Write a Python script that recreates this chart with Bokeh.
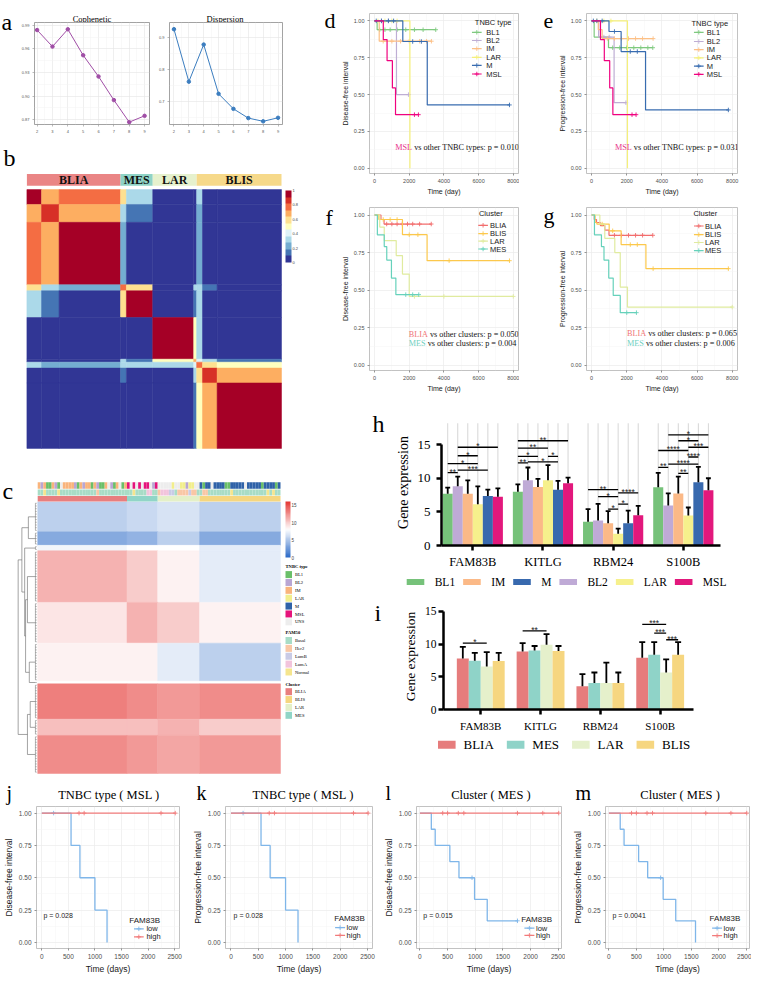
import numpy as np
from bokeh.plotting import figure
from bokeh.models import (Range1d, FixedTicker, ColorBar, LinearColorMapper, NumeralTickFormatter,
                          ColumnDataSource)
from bokeh.layouts import row, column
from bokeh.embed import file_html
from bokeh.resources import INLINE
from bokeh.core.properties import value

SERIF = "Liberation Serif"
SANS = "Liberation Sans"

# ================= DATA =================
# a: NMF rank survey
rank_k = [2, 3, 4, 5, 6, 7, 8, 9]
cophenetic = [0.984, 0.963, 0.985, 0.952, 0.925, 0.895, 0.867, 0.875]
dispersion = [0.925, 0.761, 0.877, 0.723, 0.676, 0.647, 0.637, 0.648]

# b: consensus matrix (segment level)
clusters = ["BLIA", "MES", "LAR", "BLIS"]
cluster_sizes = [32, 11, 15, 29]
cluster_colors = ["#ea8585", "#8fd3c6", "#e6f1cd", "#f6d98a"]
cons_seg_sizes = [5, 6, 21, 2, 9, 14, 1, 2, 5, 22]
consensus = [
    [0.97, 0.70, 0.74, 0.55, 0.30, 0.02, 0.05, 0.30, 0.05, 0.02],
    [0.70, 0.85, 0.68, 0.35, 0.15, 0.02, 0.05, 0.25, 0.05, 0.02],
    [0.74, 0.68, 0.95, 0.25, 0.02, 0.02, 0.05, 0.25, 0.03, 0.02],
    [0.55, 0.35, 0.25, 0.80, 0.60, 0.05, 0.30, 0.30, 0.15, 0.05],
    [0.30, 0.15, 0.02, 0.60, 0.92, 0.02, 0.10, 0.30, 0.05, 0.02],
    [0.02, 0.02, 0.02, 0.05, 0.02, 0.95, 0.50, 0.30, 0.05, 0.02],
    [0.05, 0.05, 0.05, 0.30, 0.10, 0.50, 0.70, 0.40, 0.30, 0.15],
    [0.30, 0.25, 0.25, 0.30, 0.30, 0.30, 0.40, 0.75, 0.55, 0.50],
    [0.05, 0.05, 0.03, 0.15, 0.05, 0.05, 0.30, 0.55, 0.85, 0.70],
    [0.02, 0.02, 0.02, 0.05, 0.02, 0.02, 0.15, 0.50, 0.70, 0.95],
]

# c: expression heatmap (row blocks x clusters)
row_block_sizes = [11, 5, 2, 19, 15, 14, 1, 13, 6, 14]
expr_blocks = [
    [5.5, 6.0, 6.5, 5.5],
    [3.5, 4.0, 5.5, 3.5],
    [7.5, 8.0, 8.0, 7.0],
    [11.0, 10.0, 8.5, 7.0],
    [9.0, 11.0, 10.0, 8.5],
    [8.5, 8.5, 7.0, 5.5],
    [8.0, 8.0, 8.0, 8.0],
    [13.0, 12.5, 12.0, 12.5],
    [10.5, 10.5, 11.0, 10.0],
    [12.5, 12.0, 11.5, 12.0],
]
dendro_merges = [(0, 1, 0.45), (3, 4, 0.5), (5, 6, 0.4), (11, 12, 0.6), (2, 13, 0.65),
                 (10, 14, 0.8), (7, 8, 0.35), (16, 9, 0.5), (15, 17, 1.0)]
tnbc_blia = ["IM", "BL2", "IM", "BL1", "BL1", "IM", "BL2", "BL1", "UNS", "IM", "IM", "IM", "IM", "BL2", "BL1", "IM",
             "BL2", "IM", "IM", "BL1", "IM", "BL2", "BL1", "BL1", "IM", "UNS", "BL2", "BL1", "IM", "UNS", "BL1", "IM"]
tnbc_mes = ["MSL", "UNS", "MSL", "UNS", "MSL", "UNS", "MSL", "MSL", "UNS", "BL2", "MSL"]
tnbc_lar = ["UNS", "UNS", "UNS", "UNS", "UNS", "LAR", "UNS", "UNS", "LAR", "LAR", "BL2", "LAR", "LAR", "UNS", "UNS"]
tnbc_blis = ["M", "BL1", "M", "M", "UNS", "M", "M", "M", "M", "BL1", "BL1", "M", "M", "M", "M", "M", "UNS", "M", "M",
             "M", "M", "M", "BL1", "M", "M", "M", "M", "BL1", "M"]
pam_blia = ["Basal", "Basal", "Normal", "Basal", "Basal", "Basal", "Basal", "Normal", "Basal", "Basal",
            "Basal", "Basal", "Basal", "Basal", "Basal", "Basal", "Basal", "Basal", "Basal", "Basal",
            "Basal", "Her2", "Basal", "Basal", "Basal", "Basal", "Basal", "Basal", "Basal", "Basal",
            "Basal", "Basal"]
pam_mes = ["Basal", "Basal", "Normal", "Basal", "Basal", "Basal", "Basal", "LumA", "LumA", "Basal", "Basal"]
pam_lar = ["Her2", "LumA", "LumA", "LumA", "LumB", "LumB", "Basal", "Her2", "Her2", "Her2", "Her2", "LumB", "Her2",
           "Her2", "Basal"]
pam_blis = ["Basal", "Her2", "Her2", "Basal", "Basal", "Basal", "Basal", "Basal", "Basal", "Basal",
            "Basal", "Normal", "Basal", "Basal", "Basal", "Basal", "Basal", "Basal", "Basal", "Basal",
            "Basal", "Basal", "Basal", "Basal", "Normal", "Basal", "Normal", "Basal", "Basal"]
tnbc_types = ["BL1", "BL2", "IM", "LAR", "M", "MSL", "UNS"]
tnbc_ann_colors = ["#6abf69", "#b9a6d3", "#f9b47c", "#f2ee8c", "#2f62a8", "#e5137b", "#ededed"]
pam50_types = ["Basal", "Her2", "LumB", "LumA", "Normal"]
pam50_colors = ["#a8dcc6", "#f9c7a5", "#c9cbe6", "#f2c4dc", "#f5e58e"]
cluster_legend = ["BLIA", "BLIS", "LAR", "MES"]
cluster_legend_colors = ["#e87e7e", "#f5d67f", "#e4f0c8", "#90d5c7"]

# d-g: Kaplan-Meier curves
type_groups = ["BL1", "BL2", "IM", "LAR", "M", "MSL"]
type_colors = ["#7fc97f", "#beaed4", "#fdc086", "#f5f07a", "#386cb0", "#f0027f"]
dfi_type_t = [[0, 150, 3530], [0, 1265, 1955], [0, 270, 3280], [0, 2040, 2040], [0, 1630, 3040, 7780],
              [0, 505, 723, 1030, 1210, 2530]]
dfi_type_s = [[1, 0.94, 0.94], [1, 0.5, 0.5], [1, 0.862, 0.862], [1, 0, 0], [1, 0.86, 0.43, 0.43],
              [1, 0.873, 0.73, 0.545, 0.364, 0.364]]
dfi_type_cens = [[300, 600, 900, 1300, 1800, 2300, 2800, 3530], [400, 800, 1955], [500, 1000, 1500, 2000, 2600, 3000, 3280],
                 [200, 600, 1000, 1300], [100, 400, 800, 1100, 2200, 2700, 7780], [2300, 2530]]
pfi_type_t = [[0, 146, 960, 3480], [0, 400, 1280, 1950], [0, 380, 600, 3500], [0, 2040, 2040],
              [0, 990, 1680, 3070, 7780], [0, 505, 723, 1030, 1210, 2530]]
pfi_type_s = [[1, 0.89, 0.818, 0.818], [1, 0.89, 0.445, 0.445], [1, 0.94, 0.88, 0.88], [1, 0, 0],
              [1, 0.928, 0.792, 0.396, 0.396], [1, 0.873, 0.73, 0.545, 0.364, 0.364]]
pfi_type_cens = [[1200, 1600, 2000, 2400, 2800, 3200, 3480], [700, 1000, 1950], [900, 1300, 1700, 2100, 2500, 2900, 3500],
                 [300, 700, 1100], [100, 300, 600, 1300, 2200, 2600, 7780], [2300, 2530]]
cl_groups = ["BLIA", "BLIS", "LAR", "MES"]
cl_colors = ["#f26d6d", "#fcc84c", "#e0eb9f", "#66d1bb"]
dfi_cl_t = [[0, 370, 550, 3270], [0, 250, 1610, 3030, 7780], [0, 300, 560, 1250, 1610, 2000, 8000],
            [0, 163, 560, 705, 975, 1230, 2550]]
dfi_cl_s = [[1, 0.97, 0.94, 0.94], [1, 0.97, 0.869, 0.696, 0.696], [1, 0.92, 0.83, 0.73, 0.607, 0.458, 0.458],
            [1, 0.868, 0.79, 0.70, 0.58, 0.47, 0.47]]
dfi_cl_cens = [[700, 1000, 1300, 1600, 1900, 2200, 2600, 3270], [500, 900, 1300, 2000, 2500, 4300, 7780],
               [2300, 4000, 8000], [1800, 2200, 2550]]
pfi_cl_t = [[0, 150, 280, 500, 750, 990, 3480], [0, 200, 300, 1000, 1680, 3090, 7780],
            [0, 470, 750, 1320, 1630, 2040, 8000], [0, 163, 560, 705, 975, 1230, 1630, 2550]]
pfi_cl_s = [[1, 0.97, 0.95, 0.93, 0.90, 0.865, 0.865], [1, 0.95, 0.94, 0.895, 0.803, 0.643, 0.643],
            [1, 0.94, 0.845, 0.75, 0.52, 0.387, 0.387], [1, 0.868, 0.79, 0.70, 0.58, 0.465, 0.35, 0.35]]
pfi_cl_cens = [[1300, 1700, 2100, 2500, 2900, 3480], [600, 1200, 2200, 2600, 3500, 7780], [8000], [2000, 2550]]

# h: gene expression by TNBC type
genes = ["FAM83B", "KITLG", "RBM24", "S100B"]
h_types = ["BL1", "BL2", "IM", "LAR", "M", "MSL"]
h_colors = ["#76c27a", "#bfaad6", "#fbb987", "#f6f08c", "#3869ae", "#e2187c"]
h_mean = [[7.7, 8.0, 3.55, 8.65], [8.8, 9.7, 3.7, 5.95], [7.7, 8.7, 3.3, 7.75],
          [6.15, 9.7, 1.75, 4.45], [7.35, 8.3, 3.3, 9.4], [7.25, 9.25, 4.5, 8.2]]
h_sd = [[0.9, 1.1, 1.85, 2.15], [1.45, 1.9, 2.5, 1.8], [2.0, 1.2, 1.8, 2.5],
        [2.65, 2.25, 0.75, 1.2], [0.95, 1.3, 1.9, 2.3], [1.25, 0.85, 1.4, 1.8]]
h_legend_order = ["BL1", "IM", "M", "BL2", "LAR", "MSL"]
h_brackets = [(0, 0, 1, 10.84, "**"), (0, 0, 3, 12.19, "*"), (0, 1, 4, 11.22, "***"), (0, 1, 3, 13.35, "*"),
              (0, 1, 5, 14.61, "*"),
              (1, 0, 1, 12.29, "**"), (1, 0, 2, 13.26, "*"), (1, 0, 3, 14.47, "**"), (1, 0, 5, 15.58, "**"),
              (1, 1, 4, 12.43, "*"), (1, 3, 4, 13.26, "*"),
              (2, 0, 3, 8.32, "**"), (2, 1, 3, 7.26, "*"), (2, 2, 3, 5.42, "*"), (2, 3, 4, 6.14, "*"),
              (2, 3, 5, 7.84, "****"),
              (3, 0, 1, 11.61, "**"), (3, 0, 3, 14.13, "****"), (3, 1, 4, 12.1, "****"), (3, 2, 3, 10.74, "**"),
              (3, 3, 4, 13.16, "****"), (3, 3, 5, 14.61, "***"), (3, 2, 4, 15.58, "*"), (3, 1, 5, 16.45, "*")]

# i: gene expression by cluster
i_groups = ["BLIA", "MES", "LAR", "BLIS"]
i_colors = ["#e67c7c", "#8fd3c8", "#e5f0cb", "#f6d680"]
i_mean = [[7.8, 8.85, 3.55, 7.9], [7.45, 9.0, 4.05, 8.35], [6.55, 9.9, 4.05, 5.65], [7.4, 8.95, 4.05, 8.35]]
i_sd = [[1.75, 1.3, 1.85, 2.4], [1.2, 0.7, 1.6, 1.95], [2.2, 1.6, 3.1, 2.0], [1.25, 0.75, 1.6, 1.95]]
i_brackets = [(0, 0, 2, 10.15, "*"), (1, 0, 2, 12.0, "**"), (3, 0, 2, 13.0, "***"), (3, 1, 2, 11.65, "***"),
              (3, 2, 3, 10.65, "***")]

# j-m: FAM83B low/high
fam_colors = ["#7fb6e9", "#f27b7b"]
msl_low_t = [0, 550, 717, 999, 1227]
msl_low_s = [1, 0.75, 0.5, 0.25, 0]
msl_low_cens = [222]
msl_high_t = [0, 2510]
msl_high_s = [1, 1]
msl_high_cens = [700, 796, 2242, 2510]
mes_dfi_low_t = [0, 206, 276, 541, 706, 988, 1217, 1764]
mes_dfi_low_s = [1, 0.875, 0.75, 0.625, 0.5, 0.333, 0.167, 0.167]
mes_dfi_low_cens = [942, 1764]
mes_pfi_low_t = [0, 206, 276, 541, 706, 988, 1217, 1577]
mes_pfi_low_s = [1, 0.875, 0.75, 0.625, 0.5, 0.333, 0.167, 0]
mes_pfi_low_cens = [942]
mes_high_t = [0, 2510]
mes_high_s = [1, 1]
mes_high_cens = [412, 500, 694, 794, 1764, 2222, 2510]

RDYLBU = ["#313695", "#4575b4", "#74add1", "#abd9e9", "#e0f3f8", "#ffffbf",
          "#fee090", "#fdae61", "#f46d43", "#d73027", "#a50026"]

# Liberation Serif advance widths (em) used to space the manual legends
SERIF_EM = {"A": 0.722, "B": 0.667, "I": 0.333, "L": 0.611, "M": 0.889, "R": 0.667, "S": 0.556, "E": 0.611,
            "1": 0.5, "2": 0.5}


def hexlerp(c1, c2, t):
    a = [int(c1[i:i + 2], 16) for i in (1, 3, 5)]
    b = [int(c2[i:i + 2], 16) for i in (1, 3, 5)]
    return "#%02x%02x%02x" % tuple(int(round(x + (y - x) * t)) for x, y in zip(a, b))


EXPR_PAL = [hexlerp("#2e6cc8", "#ffffff", i / 31) for i in range(32)] + \
           [hexlerp("#ffffff", "#e53935", i / 31) for i in range(1, 32)]


# ================= HELPERS =================
def base_fig(geom, xr, yr, axes=True):
    w, h, L, R, T, B = geom
    kw = {}
    if not axes:
        kw = dict(x_axis_location=None, y_axis_location=None)
    p = figure(width=w, height=h, x_range=Range1d(*xr), y_range=Range1d(*yr),
               output_backend="svg", toolbar_location=None,
               min_border_left=L, min_border_right=R, min_border_top=T, min_border_bottom=B, **kw)
    p.background_fill_color = "white"
    p.border_fill_color = "white"
    if not axes:
        p.grid.visible = False
        p.outline_line_color = None
    return p


def strip(w, h):
    return base_fig((w, h, 0, 0, 0, 0), (0, w), (h, 0), axes=False)


def strip_text(p, x, y, txt, size, font=SERIF, align="left", baseline="alphabetic"):
    p.text(x=[x], y=[y], text=[txt], text_font=value(font), text_font_size=value(size),
           text_align=align, text_baseline=baseline, text_color="black")


def px2d(geom, xr, yr, px, py):
    w, h, L, R, T, B = geom
    fw, fh = w - L - R, h - T - B
    x = xr[0] + (px - L) / fw * (xr[1] - xr[0])
    y = yr[1] + (py - T) / fh * (yr[0] - yr[1])
    return x, y


def surv_at(t, s, tc):
    idx = np.searchsorted(np.array(t), np.array(tc), side="right") - 1
    return list(np.array(s, dtype=float)[idx])


def boxed(fig):
    # wrap a strip so that it is not frame-aligned with neighbouring plots
    return column(fig)


# ================= PANEL a =================
def rank_panel(geom, ys, color, xr, yr, yticks, yminor, fmt):
    p = base_fig(geom, xr, yr)
    p.xaxis.ticker = FixedTicker(ticks=rank_k, minor_ticks=[k + 0.5 for k in rank_k[:-1]])
    p.yaxis.ticker = FixedTicker(ticks=yticks, minor_ticks=yminor)
    p.yaxis.formatter = NumeralTickFormatter(format=fmt)
    p.grid.grid_line_color = "#e4e4e4"
    p.grid.grid_line_width = 0.6
    p.grid.minor_grid_line_color = "#f2f2f2"
    p.grid.minor_grid_line_width = 0.5
    p.outline_line_color = "#8c8c8c"
    p.outline_line_width = 0.8
    p.axis.axis_line_color = None
    p.axis.major_tick_line_color = "#777777"
    p.axis.major_tick_line_width = 0.5
    p.axis.major_tick_out = 2
    p.axis.major_tick_in = 0
    p.axis.minor_tick_line_color = None
    p.axis.major_label_text_font_size = "4px"
    p.axis.major_label_text_color = "#555555"
    p.axis.major_label_standoff = 1
    p.line(rank_k, ys, line_color=color, line_width=1)
    p.scatter(rank_k, ys, size=3.5, color=color)
    return p


sa = strip(16, 135)
strip_text(sa, 1, 21.5, "a", "24px")
tA = strip(306, 22)
strip_text(tA, 75.5, 18, "Cophenetic", "8.5px", align="center")
strip_text(tA, 208.5, 18, "Dispersion", "8.5px", align="center")
gA1 = (139, 113, 18, 6, 0, 8)
pA1 = rank_panel(gA1, cophenetic, "#a04ea6", (1.83, 9.32), (0.864, 0.9936),
                 [0.87, 0.90, 0.93, 0.96, 0.99], [0.885, 0.915, 0.945, 0.975], "0.00")
gA2 = (167, 113, 10, 40, 0, 8)
pA2 = rank_panel(gA2, dispersion, "#3b7dbf", (1.7, 9.3), (0.627, 0.946),
                 [0.7, 0.8, 0.9], [0.65, 0.75, 0.85], "0.0")
blockA = row(boxed(sa), column(boxed(tA), row(pA1, pA2)))

# ================= PANEL b =================
gB = (322, 328, 0, 0, 0, 0)
NB = sum(cons_seg_sizes)
bx0, bx1, by0, by1 = 26.4, 281.0, 54.1, 312.9
bsx, bsy = (bx1 - bx0) / NB, (by1 - by0) / NB
xrB = (-bx0 / bsx, NB + (322 - bx1) / bsx)
yrB = (NB + (328 - by1) / bsy, -by0 / bsy)
pB = base_fig(gB, xrB, yrB, axes=False)
bnd = np.concatenate([[0], np.cumsum(cons_seg_sizes)])
ql, qr, qt, qb, qv = [], [], [], [], []
for i in range(len(cons_seg_sizes)):
    for j in range(len(cons_seg_sizes)):
        ql.append(bnd[j]); qr.append(bnd[j + 1]); qt.append(bnd[i]); qb.append(bnd[i + 1])
        qv.append(consensus[i][j])
cons_mapper = LinearColorMapper(palette=RDYLBU, low=0, high=1)
pB.quad(left="l", right="r", top="t", bottom="b",
        source=ColumnDataSource(dict(l=ql, r=qr, t=qt, b=qb, v=qv)),
        fill_color={"field": "v", "transform": cons_mapper},
        line_color={"field": "v", "transform": cons_mapper}, line_width=0.5)
cbnd = np.concatenate([[0], np.cumsum(cluster_sizes)])
ann_top = (38.4 - by0) / bsy
ann_bot = (50.2 - by0) / bsy
pB.quad(left=list(cbnd[:-1]), right=list(cbnd[1:]), top=[ann_top] * 4, bottom=[ann_bot] * 4,
        fill_color=cluster_colors, line_color=None)
pB.text(x=list((cbnd[:-1] + cbnd[1:]) / 2), y=[(ann_top + ann_bot) / 2] * 4, text=clusters,
        text_align="center", text_baseline="middle", text_font=value(SERIF),
        text_font_size=value("12px"), text_font_style="bold", text_color="#111111")
pB.add_layout(ColorBar(color_mapper=cons_mapper, location=(285, 328 - 127), width=6, height=72,
                       ticker=FixedTicker(ticks=[0, 0.2, 0.4, 0.6, 0.8, 1]),
                       major_label_text_font_size="4px", label_standoff=1, padding=0, margin=0,
                       major_tick_line_color=None, bar_line_color=None, background_fill_alpha=0,
                       border_line_color=None))
bl_x, bl_y = px2d(gB, xrB, yrB, 3, 22.5)
pB.text(x=[bl_x], y=[bl_y], text=["b"], text_font=value(SERIF), text_font_size=value("24px"),
        text_baseline="alphabetic", text_color="black")

# ================= PANEL c =================
gC = (322, 315, 0, 0, 0, 0)
NC = sum(cluster_sizes)
NR = sum(row_block_sizes)
cx0, cx1, cy0, cy1 = 37.2, 280.0, 38.4, 310.0
csx, csy = (cx1 - cx0) / NC, (cy1 - cy0) / NR
xrC = (-cx0 / csx, NC + (322 - cx1) / csx)
yrC = (NR + (315 - cy1) / csy, -cy0 / csy)
pC = base_fig(gC, xrC, yrC, axes=False)
rbnd = np.concatenate([[0], np.cumsum(row_block_sizes)])
ql, qr, qt, qb, qv = [], [], [], [], []
for r in range(len(row_block_sizes)):
    for c in range(4):
        ql.append(cbnd[c]); qr.append(cbnd[c + 1]); qt.append(rbnd[r]); qb.append(rbnd[r + 1])
        qv.append(expr_blocks[r][c])
expr_mapper = LinearColorMapper(palette=EXPR_PAL, low=0, high=16)
pC.quad(left="l", right="r", top="t", bottom="b",
        source=ColumnDataSource(dict(l=ql, r=qr, t=qt, b=qb, v=qv)),
        fill_color={"field": "v", "transform": expr_mapper},
        line_color={"field": "v", "transform": expr_mapper}, line_width=0.5)


def cy(px):
    return (px - cy0) / csy


def cxx(px):
    return (px - cx0) / csx


tnbc_all = tnbc_blia + tnbc_mes + tnbc_lar + tnbc_blis
pam_all = pam_blia + pam_mes + pam_lar + pam_blis
tcol = dict(zip(tnbc_types, tnbc_ann_colors))
pcol = dict(zip(pam50_types, pam50_colors))
idx = list(range(len(tnbc_all)))
pC.quad(left=idx, right=[i + 1 for i in idx], top=[cy(18.7)] * len(idx), bottom=[cy(25.3)] * len(idx),
        fill_color=[tcol[t] for t in tnbc_all], line_color=None)
pC.quad(left=idx, right=[i + 1 for i in idx], top=[cy(25.9)] * len(idx), bottom=[cy(31.9)] * len(idx),
        fill_color=[pcol[t] for t in pam_all], line_color=None)
pC.quad(left=list(cbnd[:-1]), right=list(cbnd[1:]), top=[cy(32.5)] * 4, bottom=[cy(38.0)] * 4,
        fill_color=["#e87e7e", "#90d5c7", "#e4f0c8", "#f5d67f"], line_color=None)


def hx(hh):
    return -0.35 - hh * 6.65


leaf_h = 0.07
rows_c = np.arange(NR) + 0.5
pC.segment(x0=[hx(0)] * NR, y0=list(rows_c), x1=[hx(leaf_h)] * NR, y1=list(rows_c),
           line_color="#666666", line_width=0.5)
node_y, node_h = [], []
for b in range(len(row_block_sizes)):
    y0, y1 = rbnd[b] + 0.5, rbnd[b + 1] - 0.5
    pC.segment(x0=[hx(leaf_h)], y0=[y0], x1=[hx(leaf_h)], y1=[y1], line_color="#666666", line_width=0.5)
    node_y.append((y0 + y1) / 2)
    node_h.append(leaf_h)
for a, b, hh in dendro_merges:
    ya, yb = node_y[a], node_y[b]
    pC.segment(x0=[hx(hh), hx(node_h[a]), hx(node_h[b])], y0=[ya, ya, yb],
               x1=[hx(hh), hx(hh), hx(hh)], y1=[yb, ya, yb], line_color="#666666", line_width=0.6)
    node_y.append((ya + yb) / 2)
    node_h.append(hh)

pC.add_layout(ColorBar(color_mapper=expr_mapper, location=(285, 315 - 94), width=5, height=56,
                       ticker=FixedTicker(ticks=[0, 5, 10, 15]),
                       major_label_text_font_size="4.5px", label_standoff=1, padding=0, margin=0,
                       major_tick_line_color=None, bar_line_color=None, background_fill_alpha=0,
                       border_line_color=None))


def c_legend(title, labels, colors, title_py, first_py):
    step = 7.87
    pC.text(x=[cxx(285.0)], y=[cy(title_py)], text=[title], text_font=value(SERIF),
            text_font_size=value("4.6px"), text_font_style="bold", text_baseline="middle")
    ys = [first_py + k * step for k in range(len(labels))]
    pC.quad(left=[cxx(285.0)] * len(labels), right=[cxx(291.5)] * len(labels),
            top=[cy(y - 3.6) for y in ys], bottom=[cy(y + 3.4) for y in ys],
            fill_color=colors, line_color=None)
    pC.text(x=[cxx(294.5)] * len(labels), y=[cy(y) for y in ys], text=labels, text_font=value(SERIF),
            text_font_size=value("4.6px"), text_baseline="middle")


c_legend("TNBC type", tnbc_types, tnbc_ann_colors, 103.3, 111.2)
c_legend("PAM50", pam50_types, pam50_colors, 169.2, 177.1)
c_legend("Cluster", cluster_legend, cluster_legend_colors, 221.4, 228.3)
cl_x, cl_y = px2d(gC, xrC, yrC, 2, 27.6)
pC.text(x=[cl_x], y=[cl_y], text=["c"], text_font=value(SERIF), text_font_size=value("24px"),
        text_baseline="alphabetic", text_color="black")


# ================= KM PANELS =================
def km_panel(geom, xr, yr, xticks, xminor, xlabel, ylabel, tick_fs, lab_fs):
    p = base_fig(geom, xr, yr)
    p.xaxis.ticker = FixedTicker(ticks=xticks, minor_ticks=xminor)
    p.yaxis.ticker = FixedTicker(ticks=[0, 0.25, 0.5, 0.75, 1.0], minor_ticks=[0.125, 0.375, 0.625, 0.875])
    p.yaxis.formatter = NumeralTickFormatter(format="0.00")
    p.grid.grid_line_color = "#ebebeb"
    p.grid.grid_line_width = 0.7
    p.grid.minor_grid_line_color = "#f5f5f5"
    p.grid.minor_grid_line_width = 0.5
    p.outline_line_color = "#b3b3b3"
    p.outline_line_width = 0.8
    p.axis.axis_line_color = None
    p.axis.major_tick_line_color = "#4d4d4d"
    p.axis.major_tick_line_width = 0.6
    p.axis.major_tick_out = 2
    p.axis.major_tick_in = 0
    p.axis.minor_tick_line_color = None
    p.axis.major_label_text_font = SANS
    p.axis.major_label_text_font_size = tick_fs
    p.axis.major_label_text_color = "#4d4d4d"
    p.axis.major_label_standoff = 1
    p.axis.axis_label_text_font = SANS
    p.axis.axis_label_text_font_size = lab_fs
    p.axis.axis_label_text_font_style = "normal"
    p.axis.axis_label_text_color = "#1a1a1a"
    p.axis.axis_label_standoff = 2
    p.xaxis.axis_label = xlabel
    p.yaxis.axis_label = ylabel
    return p


def add_curves(p, times, survs, cens, colors, lw=1.2):
    for t, s, c, col in zip(times, survs, cens, colors):
        p.step(x=t, y=s, mode="after", line_color=col, line_width=lw)
        p.scatter(x=c, y=surv_at(t, s, c), marker="cross", size=4.5, line_color=col, line_width=0.9)


def km_legend(p, vg, xr, yr, title, tpx, tpy, labels, colors, gx, tx, ys, tfs, ifs):
    x, y = px2d(vg, xr, yr, tpx, tpy)
    p.text(x=[x], y=[y], text=[title], text_font=value(SANS), text_font_size=value(tfs),
           text_baseline="middle", text_color="#1a1a1a")
    for lab, col, yy in zip(labels, colors, ys):
        xa, yc = px2d(vg, xr, yr, gx - 5, yy)
        xb, _ = px2d(vg, xr, yr, gx + 5, yy)
        xc, _ = px2d(vg, xr, yr, gx, yy)
        xt, _ = px2d(vg, xr, yr, tx, yy)
        p.segment(x0=[xa], y0=[yc], x1=[xb], y1=[yc], line_color=col, line_width=1.2)
        p.scatter(x=[xc], y=[yc], marker="cross", size=4.5, line_color=col, line_width=0.9)
        p.text(x=[xt], y=[yc], text=[lab], text_font=value(SANS), text_font_size=value(ifs),
               text_baseline="middle", text_color="#1a1a1a")


def two_color(p, vg, xr, yr, px, py, first, rest, col, em_first, fs=8.2):
    x, y = px2d(vg, xr, yr, px, py)
    p.text(x=[x], y=[y], text=[first], text_font=value(SERIF), text_font_size=value("%spx" % fs),
           text_baseline="middle", text_color=col)
    p.text(x=[x], y=[y], text=[rest], text_font=value(SERIF), text_font_size=value("%spx" % fs),
           text_baseline="middle", text_color="#111111", x_offset=(em_first + 0.25) * fs)


XR_L = (-290, 8300)
YR = (-0.035, 1.05)
XT_L = [0, 2000, 4000, 6000, 8000]
XM_L = [1000, 3000, 5000, 7000]


def letter_strip(w, h, txt, x, y, size="22px"):
    s = strip(w, h)
    strip_text(s, x, y, txt, size)
    return boxed(s)


gD = (181, 197, 26, 1, 13, 24)
vD = (197, 197, 42, 1, 13, 24)
pD = km_panel(gD, XR_L, YR, XT_L, XM_L, "Time (day)", "Disease-free interval", "5.5px", "7px")
add_curves(pD, dfi_type_t, dfi_type_s, dfi_type_cens, type_colors)
km_legend(pD, vD, XR_L, YR, "TNBC type", 150.9, 21.6, type_groups, type_colors, 152.9, 162.7,
          [31.8, 40.0, 48.2, 56.8, 64.9, 73.5], "7.5px", "7.5px")
two_color(pD, vD, XR_L, YR, 68.6, 146.6, "MSL", "vs other TNBC types: p = 0.010", "#e8338a", 2.056)

gE = (196, 197, 26, 14, 13, 24)
vE = (232, 197, 62, 14, 13, 24)
pE = km_panel(gE, XR_L, YR, XT_L, XM_L, "Time (day)", "Progression-free interval", "5.5px", "7px")
add_curves(pE, pfi_type_t, pfi_type_s, pfi_type_cens, type_colors)
km_legend(pE, vE, XR_L, YR, "TNBC type", 170.5, 22.6, type_groups, type_colors, 178, 186.2,
          [31.8, 41.0, 49.2, 57.4, 65.6, 73.8], "7.5px", "7.5px")
two_color(pE, vE, XR_L, YR, 91.4, 146.6, "MSL", "vs other TNBC types: p = 0.031", "#e8338a", 2.056)

gF = (181, 197, 26, 1, 10, 24)
vF = (197, 197, 42, 1, 10, 24)
pF = km_panel(gF, XR_L, YR, XT_L, XM_L, "Time (day)", "Disease-free interval", "5.5px", "7px")
add_curves(pF, dfi_cl_t, dfi_cl_s, dfi_cl_cens, cl_colors)
km_legend(pF, vF, XR_L, YR, "Cluster", 155.1, 16.4, cl_groups, cl_colors, 159.4, 166.6,
          [27.8, 36.1, 43.6, 51.5], "7.5px", "7.5px")
two_color(pF, vF, XR_L, YR, 82.6, 137.1, "BLIA", "vs other clusters: p = 0.050", "#f07575", 2.333)
two_color(pF, vF, XR_L, YR, 82.6, 145.9, "MES", "vs other clusters: p = 0.004", "#6fd0bf", 2.056)

gG = (196, 197, 26, 14, 10, 24)
vG = (232, 197, 62, 14, 10, 24)
pG = km_panel(gG, XR_L, YR, XT_L, XM_L, "Time (day)", "Progression-free interval", "5.5px", "7px")
add_curves(pG, pfi_cl_t, pfi_cl_s, pfi_cl_cens, cl_colors)
km_legend(pG, vG, XR_L, YR, "Cluster", 172.5, 16.4, cl_groups, cl_colors, 178, 184.5,
          [28.5, 37.1, 45.0, 53.1], "7.5px", "7.5px")
two_color(pG, vG, XR_L, YR, 103.9, 135.5, "BLIA", "vs other clusters: p = 0.065", "#f07575", 2.333)
two_color(pG, vG, XR_L, YR, 103.9, 145.9, "MES", "vs other clusters: p = 0.006", "#6fd0bf", 2.056)

rowDE = row(letter_strip(16, 197, "d", 2, 20), pD, letter_strip(36, 197, "e", 24, 20), pE)
rowFG = row(letter_strip(16, 197, "f", 3, 20), pF, letter_strip(36, 197, "g", 24, 18), pG)


# ================= BAR PANELS h, i =================
def bar_axes(p, tick_fs_y, tick_fs_x, lab_fs, ylabel, x_standoff, y_standoff, lab_standoff):
    p.grid.visible = False
    p.outline_line_color = None
    p.xaxis.ticker = FixedTicker(ticks=[0, 1, 2, 3])
    p.xaxis.major_label_overrides = {i: g for i, g in enumerate(genes)}
    p.yaxis.ticker = FixedTicker(ticks=[0, 5, 10, 15])
    p.yaxis.bounds = (0, 15)
    p.axis.axis_line_width = 2.5
    p.axis.axis_line_color = "black"
    p.axis.major_tick_line_width = 2.5
    p.axis.major_tick_line_color = "black"
    p.axis.major_tick_out = 5
    p.axis.major_tick_in = 0
    p.axis.minor_tick_line_color = None
    p.axis.major_label_text_font = SERIF
    p.axis.major_label_text_color = "black"
    p.yaxis.major_label_text_font_size = tick_fs_y
    p.xaxis.major_label_text_font_size = tick_fs_x
    p.xaxis.major_label_standoff = x_standoff
    p.yaxis.major_label_standoff = y_standoff
    p.yaxis.axis_label = ylabel
    p.yaxis.axis_label_text_font = SERIF
    p.yaxis.axis_label_text_font_size = lab_fs
    p.yaxis.axis_label_text_font_style = "normal"
    p.yaxis.axis_label_text_color = "black"
    p.yaxis.axis_label_standoff = lab_standoff


def bar_panel(p, means, sds, colors, nk, bw, center, top_guides, cap):
    if top_guides is not None:
        for k in range(nk):
            xs = [g + (k - center) * bw for g in range(4)]
            p.segment(x0=xs, y0=[0] * 4, x1=xs, y1=[top_guides] * 4, line_color="#8a8a8a",
                      line_dash="1 1", line_width=0.7)
    for k in range(nk):
        xs = [g + (k - center) * bw for g in range(4)]
        p.vbar(x=xs, top=means[k], width=bw, fill_color=colors[k], line_color=None)
        tops = [m + s for m, s in zip(means[k], sds[k])]
        p.segment(x0=xs, y0=means[k], x1=xs, y1=tops, line_color="black", line_width=1.8)
        p.segment(x0=[x - cap for x in xs], y0=tops, x1=[x + cap for x in xs], y1=tops,
                  line_color="black", line_width=1.8)


def brackets(p, items, bw, center, fs):
    x0, x1, yy, xm, lab = [], [], [], [], []
    for g, i, j, y, s in items:
        a = g + (i - center) * bw
        b = g + (j - center) * bw
        x0.append(a); x1.append(b); yy.append(y); xm.append((a + b) / 2); lab.append(s)
    p.segment(x0=x0, y0=yy, x1=x1, y1=yy, line_color="black", line_width=1.3)
    p.text(x=xm, y=yy, text=lab, text_align="center", text_baseline="middle", y_offset=-1,
           text_font=value(SANS), text_font_size=value(fs), text_color="#222222")


def legend_strip(w, h, labels, colors, x_start, cy_, pw, ph, text_dx, gap, fs_px):
    s = strip(w, h)
    xs, x = [], x_start
    for lab in labels:
        xs.append(x)
        x += text_dx + sum(SERIF_EM.get(ch, 0.5) for ch in lab) * fs_px + gap
    s.quad(left=xs, right=[v + pw for v in xs], top=[cy_ - ph / 2] * len(labels),
           bottom=[cy_ + ph / 2] * len(labels), fill_color=colors, line_color=None)
    s.text(x=[v + text_dx for v in xs], y=[cy_] * len(labels), text=labels,
           text_font=value(SERIF), text_font_size=value("%spx" % fs_px), text_baseline="middle",
           text_color="black")
    return boxed(s)


gH = (359, 177, 45, 31, 25, 26)
pH = base_fig(gH, (-0.446, 3.53), (0, 18.74))
bar_axes(pH, "13px", "12.5px", "14px", "Gene expression", 4, 6, 4)
bar_panel(pH, h_mean, h_sd, h_colors, len(h_types), 0.143, 2.5, 18.2, 0.035)
brackets(pH, h_brackets, 0.143, 2.5, "8.5px")
h_leg_colors = [h_colors[h_types.index(t)] for t in h_legend_order]
lh = legend_strip(359, 20, h_legend_order, h_leg_colors, 14.2, 10.6, 17.6, 6, 28, 8, 11.5)
rowH = row(letter_strip(70, 197, "h", 50, 29.5, "24px"), column(pH, lh))

gI = (359, 143, 51, 58, 12, 24)
pI = base_fig(gI, (-0.623, 3.557), (0, 16.19))
bar_axes(pI, "11.5px", "11px", "13.5px", "Gene expression", 5, 2, 4)
bar_panel(pI, i_mean, i_sd, i_colors, len(i_groups), 0.2, 1.5, None, 0.05)
brackets(pI, i_brackets, 0.2, 1.5, "8.5px")
li = legend_strip(359, 44, i_groups, i_colors, 45.5, 10.2, 17.6, 8, 25.5, 13, 13)
rowI = row(letter_strip(70, 187, "i", 52, 21.5, "24px"), column(pI, li))

# ================= PANELS j-m =================
XT_S = [0, 500, 1000, 1500, 2000, 2500]
XM_S = [250, 750, 1250, 1750, 2250]
YR_S = (-0.047, 1.051)
TS = 28  # title band height above each j-m frame


def fam_panel(w, L, R, xr, ylabel, low_t, low_s, low_c, high_t, high_s, high_c,
              ptxt, ppx, leg_tx, leg_ty, leg_gx, leg_txx, leg_ys, title, title_cx, let, let_x):
    geom = (w, 198 - TS, L, R, 0, 19)
    vg = (w, 198, L, R, TS, 19)
    p = km_panel(geom, xr, YR_S, XT_S, XM_S, "Time (days)", ylabel, "6.5px", "8.5px")
    add_curves(p, [low_t, high_t], [low_s, high_s], [low_c, high_c], fam_colors, lw=1.3)
    x, y = px2d(vg, xr, YR_S, ppx, 144.4)
    p.text(x=[x], y=[y], text=[ptxt], text_font=value(SANS), text_font_size=value("7px"),
           text_baseline="middle", text_color="#1a1a1a")
    km_legend(p, vg, xr, YR_S, "FAM83B", leg_tx, leg_ty, ["low", "high"], fam_colors,
              leg_gx, leg_txx, leg_ys, "8px", "7.5px")
    s = strip(w, TS)
    strip_text(s, let_x, 14, let, "20px", baseline="middle")
    strip_text(s, title_cx, 16, title, "12.5px", align="center", baseline="middle")
    return column(boxed(s), p)


pJ = fam_panel(188, 32, 9, (-100, 2590), "Disease-free interval",
               msl_low_t, msl_low_s, msl_low_cens, msl_high_t, msl_high_s, msl_high_cens,
               "p = 0.028", 39.2, 127.4, 149.3, 137.2, 145.0, [158.1, 166.6],
               "TNBC type ( MSL )", 108.4, "j", 6)
pK = fam_panel(189, 37, 5, (-100, 2590), "Progression-free interval",
               msl_low_t, msl_low_s, msl_low_cens, msl_high_t, msl_high_s, msl_high_cens,
               "p = 0.028", 45.1, 145.7, 147.6, 151.6, 158.1, [156.8, 165.0],
               "TNBC type ( MSL )", 114.6, "k", 8)
pL = fam_panel(188, 39, 4, (-62, 2560), "Disease-free interval",
               mes_dfi_low_t, mes_dfi_low_s, mes_dfi_low_cens, mes_high_t, mes_high_s, mes_high_cens,
               "p = 0.015", 45.8, 143.8, 148.3, 151.9, 158.5, [157.4, 165.0],
               "Cluster ( MES )", 113.4, "l", 8)
pM = fam_panel(186, 40, 2, (-62, 2560), "Progression-free interval",
               mes_pfi_low_t, mes_pfi_low_s, mes_pfi_low_cens, mes_high_t, mes_high_s, mes_high_cens,
               "p = 0.0041", 47.0, 144.1, 147.6, 151.6, 158.1, [157.4, 165.3],
               "Cluster ( MES )", 114.6, "m", 10)

# ================= LAYOUT =================
left_col = column(blockA, pB, pC)
right_col = column(rowDE, rowFG, rowH, rowI)
page = column(row(left_col, right_col), row(pJ, pK, pL, pM))

open("out.html", "w").write(file_html(page, INLINE, title="TNBC figure"))
